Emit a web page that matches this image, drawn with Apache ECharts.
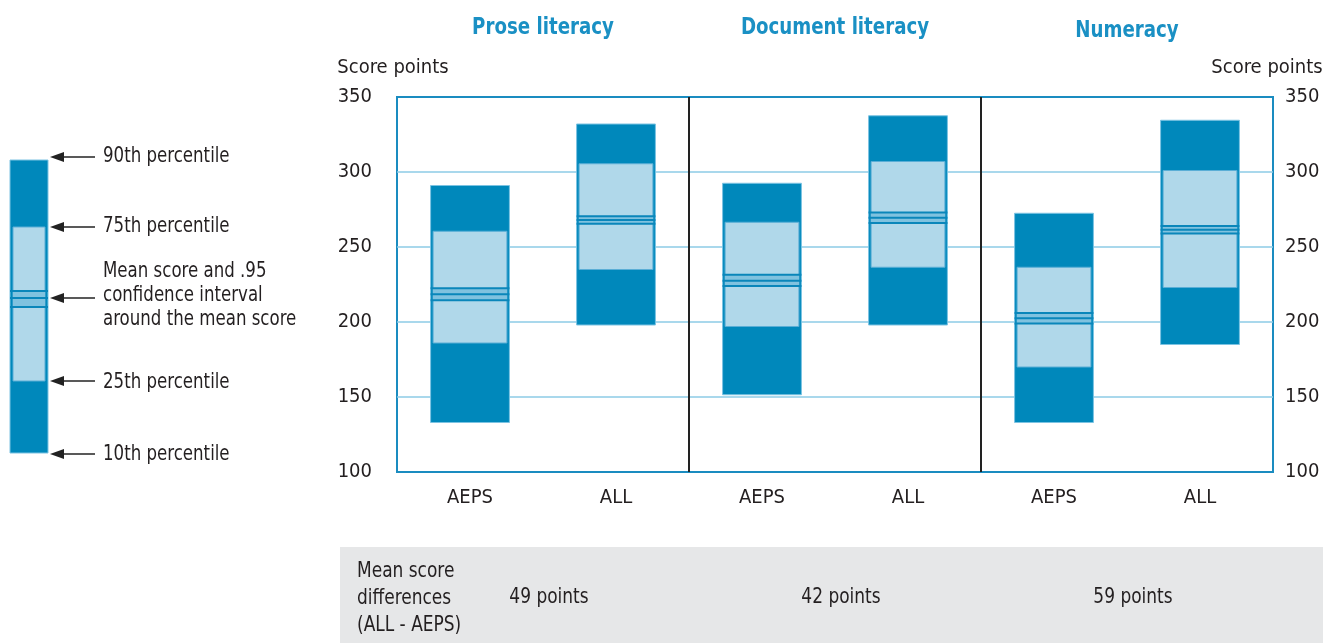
<!DOCTYPE html>
<html>
<head>
<meta charset="utf-8">
<script src="https://cdn.jsdelivr.net/npm/echarts@6/dist/echarts.min.js"></script>
<style>
html,body{margin:0;padding:0;background:#fff;}
#chart{width:1323px;height:643px;}
</style>
</head>
<body>
<div id="chart"></div>
<script>
// ---- data ----
var categories = ['AEPS', 'ALL', 'AEPS', 'ALL', 'AEPS', 'ALL'];
var domains = ['Prose literacy', 'Document literacy', 'Numeracy'];
var p10    = [133,   198,   151.5, 198,   133,   185];
var p25    = [186,   235,   197,   236.5, 170,   223];
var ciLow  = [214.5, 265.5, 224,   266,   199,   259];
var mean   = [218.5, 268,   227.5, 269.5, 202.5, 261.5];
var ciHigh = [222.5, 270.5, 231.5, 273,   206,   264];
var p75    = [260.5, 305.5, 266.5, 307,   236.5, 301];
var p90    = [291,   332,   292.5, 337.5, 272.5, 334.5];
var yTicks = [100, 150, 200, 250, 300, 350];
var meanDiffs = ['49 points', '42 points', '59 points'];

var FONT = "'Liberation Sans Narrow', 'DejaVu Sans Condensed', 'Arial Narrow', sans-serif";
var DARK = '#0088bb';
var LIGHT = '#b0d8ea';
var MID = '#80c2df';
var LINE = '#0a86ba';
var TITLE = '#1a90c4';
var TXT = '#231f20';

var boxData = categories.map(function (c, i) {
  return [i, p10[i], p25[i], ciLow[i], mean[i], ciHigh[i], p75[i], p90[i]];
});

function renderBox(params, api) {
  var i = api.value(0);
  var bw = api.size([1, 0])[0] * 0.54;
  var c10 = api.coord([i, api.value(1)]);
  var c25 = api.coord([i, api.value(2)]);
  var cLo = api.coord([i, api.value(3)]);
  var cM = api.coord([i, api.value(4)]);
  var cHi = api.coord([i, api.value(5)]);
  var c75 = api.coord([i, api.value(6)]);
  var c90 = api.coord([i, api.value(7)]);
  var x0 = c10[0] - bw / 2;
  var inset = 2.5;
  var children = [
    { type: 'rect', shape: { x: x0, y: c90[1], width: bw, height: c10[1] - c90[1] },
      style: { fill: DARK, stroke: '#7cc3e2', lineWidth: 1 } },
    { type: 'rect', shape: { x: x0 + inset, y: c75[1], width: bw - 2 * inset, height: c25[1] - c75[1] },
      style: { fill: LIGHT, stroke: '#5aaed6', lineWidth: 1 } },
    { type: 'rect', shape: { x: x0 + inset, y: cHi[1], width: bw - 2 * inset, height: cLo[1] - cHi[1] },
      style: { fill: MID } }
  ];
  [cHi, cM, cLo].forEach(function (p) {
    children.push({ type: 'line', shape: { x1: x0, y1: p[1], x2: x0 + bw, y2: p[1] },
      style: { stroke: LINE, lineWidth: 2.2 } });
  });
  return { type: 'group', children: children };
}

var chart = echarts.init(document.getElementById('chart'), null, { renderer: 'canvas' });

var option = {
  animation: false,
  backgroundColor: '#ffffff',
  textStyle: { fontFamily: FONT },
  grid: {
    left: 397, right: 50, top: 97, bottom: 171,
    outerBoundsMode: 'none', containLabel: false,
    show: true, borderColor: '#1a8cc0', borderWidth: 2, backgroundColor: 'transparent'
  },
  xAxis: [
    {
      type: 'category', data: categories, boundaryGap: true,
      axisLine: { show: false }, axisTick: { show: false },
      axisLabel: { color: TXT, fontSize: 20, fontFamily: FONT, margin: 16 },
      splitLine: { show: false }
    },
    {
      type: 'value', min: 0, max: 3, interval: 1, position: 'top',
      axisLine: { show: false }, axisTick: { show: false }, axisLabel: { show: false },
      splitLine: { show: true, showMinLine: false, showMaxLine: false,
        lineStyle: { color: '#222', width: 2 } }
    }
  ],
  yAxis: [
    {
      type: 'value', min: yTicks[0], max: yTicks[yTicks.length - 1], interval: 50,
      name: 'Score points', nameLocation: 'end', nameGap: 19,
      nameTextStyle: { color: TXT, fontSize: 20, fontFamily: FONT, align: 'center', padding: [0, 8, 0, 0] },
      axisLine: { show: false }, axisTick: { show: false },
      axisLabel: { color: TXT, fontSize: 20, fontFamily: FONT, margin: 25 },
      splitLine: { show: true, showMinLine: false, showMaxLine: false,
        lineStyle: { color: '#8ccbe6', width: 1.6 } }
    },
    {
      type: 'value', min: yTicks[0], max: yTicks[yTicks.length - 1], interval: 50, position: 'right',
      name: 'Score points', nameLocation: 'end', nameGap: 19,
      nameTextStyle: { color: TXT, fontSize: 20, fontFamily: FONT, align: 'center', padding: [0, 12, 0, 0] },
      axisLine: { show: false }, axisTick: { show: false },
      axisLabel: { color: TXT, fontSize: 20, fontFamily: FONT, margin: 12 },
      splitLine: { show: false }
    }
  ],
  series: [
    {
      type: 'custom', xAxisIndex: 0, yAxisIndex: 0,
      renderItem: renderBox,
      encode: { x: 0, y: [1, 2, 3, 4, 5, 6, 7] },
      data: boxData, z: 5
    }
  ]
};
chart.setOption(option);

// panel centers from the divider axis
var graphics = [];
domains.forEach(function (d, k) {
  var px = chart.convertToPixel({ xAxisIndex: 1 }, k + 0.5);
  graphics.push({
    type: 'text', x: px, y: 28 + (k === 2 ? 3 : 0), originX: 0, originY: 0, scaleX: 0.88,
    style: { text: d, fill: TITLE, font: 'bold 23px ' + FONT, align: 'center', verticalAlign: 'middle' }
  });
});

// bottom table
graphics.push({ type: 'rect', shape: { x: 340, y: 547, width: 983, height: 96 }, style: { fill: '#e6e7e8' }, z: -1 });
graphics.push({ type: 'text', x: 357, y: 571, scaleX: 0.9, originX: 0, originY: 0,
  style: { text: 'Mean score\ndifferences\n(ALL - AEPS)', fill: TXT, font: '21px ' + FONT, lineHeight: 27, verticalAlign: 'top' , y: -13 } });
meanDiffs.forEach(function (t, k) {
  var px = chart.convertToPixel({ xAxisIndex: 1 }, k + 0.5);
  graphics.push({ type: 'text', x: px + 6, y: 598, scaleX: 0.9,
    style: { text: t, fill: TXT, font: '21px ' + FONT, align: 'center', verticalAlign: 'middle' } });
});

// explanatory key on the left
var key = { x: 10, w: 38, top: 160, bot: 453, q75: 227, q25: 381, ciHi: 291, m: 298, ciLo: 307 };
graphics.push({ type: 'rect', shape: { x: key.x, y: key.top, width: key.w, height: key.bot - key.top }, style: { fill: DARK, stroke: '#7cc3e2', lineWidth: 1 } });
graphics.push({ type: 'rect', shape: { x: key.x + 3, y: key.q75, width: key.w - 6, height: key.q25 - key.q75 }, style: { fill: LIGHT, stroke: '#5aaed6', lineWidth: 1 } });
graphics.push({ type: 'rect', shape: { x: key.x + 3, y: key.ciHi, width: key.w - 6, height: key.ciLo - key.ciHi }, style: { fill: MID } });
[key.ciHi, key.m, key.ciLo].forEach(function (y) {
  graphics.push({ type: 'line', shape: { x1: key.x, y1: y, x2: key.x + key.w, y2: y }, style: { stroke: LINE, lineWidth: 2.2 } });
});
var arrows = [
  { y: 157, label: '90th percentile', ty: 157 },
  { y: 227, label: '75th percentile', ty: 227 },
  { y: 298, label: 'Mean score and .95\nconfidence interval\naround the mean score', ty: 296 },
  { y: 381, label: '25th percentile', ty: 383 },
  { y: 454, label: '10th percentile', ty: 455 }
];
arrows.forEach(function (a) {
  graphics.push({ type: 'line', shape: { x1: 60, y1: a.y, x2: 95, y2: a.y }, style: { stroke: '#222', lineWidth: 1.5 } });
  graphics.push({ type: 'polygon', shape: { points: [[50, a.y], [64, a.y - 5], [64, a.y + 5]] }, style: { fill: '#222' } });
  graphics.push({ type: 'text', x: 103, y: a.ty, scaleX: 0.88,
    style: { text: a.label, fill: TXT, font: '21px ' + FONT, lineHeight: 24, verticalAlign: 'middle' } });
});

chart.setOption({ graphic: graphics });
</script>
</body>
</html>
